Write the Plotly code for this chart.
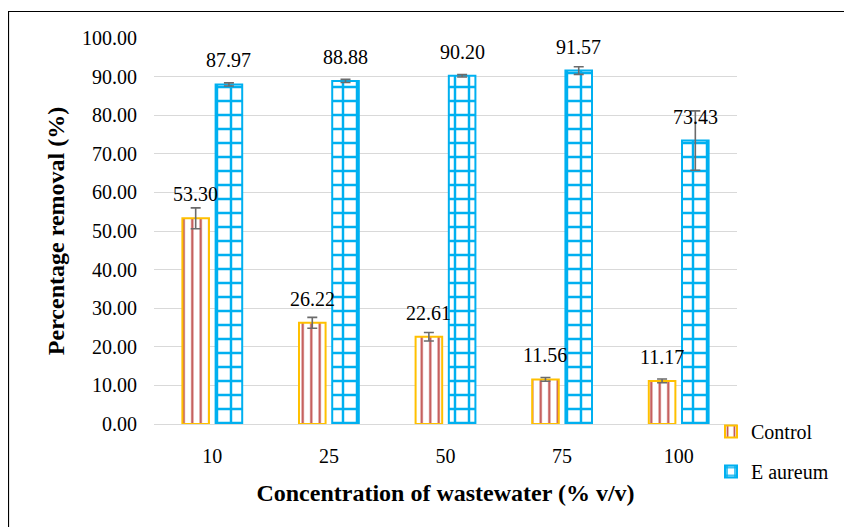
import plotly.graph_objects as go

categories = ["10", "25", "50", "75", "100"]
control = [53.30, 26.22, 22.61, 11.56, 11.17]
control_err = [2.7, 1.4, 1.1, 0.5, 0.5]
eaureum = [87.97, 88.88, 90.20, 91.57, 73.43]
eaureum_err = [0.4, 0.4, 0.3, 1.0, 7.7]

FONT = "Liberation Serif"
OFF = 8  # page body margin
W, H = 852 - OFF, 527 - OFF
ML, MT = 154 - OFF, 38 - OFF
MR = W - (737 - OFF)
MB = H - (424 - OFF)
BARGAP = 0.43
plot_w = W - ML - MR
plot_h = H - MT - MB
slot_px = plot_w / len(categories) * (1 - BARGAP) / 2


def px_x(p):
    return (p - OFF - ML) / plot_w


def px_y(p):
    return (H - MB - (p - OFF)) / plot_h


fig = go.Figure()
fig.add_trace(go.Bar(
    name="Control", x=categories, y=control,
    marker=dict(color="white", line=dict(color="#FFC000", width=2),
                pattern=dict(shape="|", fgcolor="#C0504D", fgopacity=1, size=8.5, solidity=0.25,
                             fillmode="overlay")),
    error_y=dict(type="data", array=control_err, color="#6b6b6b", thickness=1.6, width=5),
    legendgroup="a",
))
fig.add_trace(go.Bar(
    name="E aureum", x=categories, y=eaureum,
    marker=dict(color="white", line=dict(color="#00B0F0", width=2),
                pattern=dict(shape="+", fgcolor="#00B0F0", fgopacity=1, size=14, solidity=0.32,
                             fillmode="overlay")),
    error_y=dict(type="data", array=eaureum_err, color="#6b6b6b", thickness=1.6, width=5),
    legendgroup="b",
))

annotations = []
for vals, sign in ((control, -1), (eaureum, 1)):
    for i, v in enumerate(vals):
        annotations.append(dict(x=i, y=v, xref="x", yref="y", text=f"{v:.2f}",
                                showarrow=False, yanchor="middle", xanchor="center",
                                xshift=sign * slot_px / 2, yshift=24,
                                font=dict(family=FONT, size=20, color="#000")))

fig.update_layout(
    width=W, height=H,
    margin=dict(l=ML, r=MR, t=MT, b=MB, autoexpand=False),
    paper_bgcolor="white", plot_bgcolor="white",
    barmode="group", bargap=BARGAP, bargroupgap=0.2,
    font=dict(family=FONT, size=20, color="#000"),
    annotations=annotations,
    legend=dict(x=px_x(711), y=px_y(412), xanchor="left", yanchor="top",
                font=dict(family=FONT, size=20), tracegroupgap=11, bgcolor="rgba(0,0,0,0)"),
    shapes=[dict(type="rect", xref="paper", yref="paper",
                 x0=px_x(8.5), x1=px_x(870),
                 y0=px_y(560), y1=px_y(11.5),
                 line=dict(color="black", width=1.2), fillcolor="rgba(0,0,0,0)", layer="below")],
    xaxis=dict(type="category", categoryorder="array", categoryarray=categories,
               range=[-0.5, len(categories) - 0.5],
               showline=True, linecolor="#D9D9D9", linewidth=1.3, ticks="",
               ticklabelstandoff=14, tickfont=dict(family=FONT, size=20),
               title=dict(text="<b>Concentration of wastewater (% v/v)</b>", standoff=18,
                          font=dict(family=FONT, size=24))),
    yaxis=dict(range=[0, 100], dtick=10, tickformat=".2f", showgrid=True, gridcolor="#D9D9D9",
               gridwidth=1.3, zeroline=False, showline=False, ticks="", ticklabelstandoff=16,
               tickfont=dict(family=FONT, size=20),
               title=dict(text="<b>Percentage removal (%)</b>", standoff=10,
                          font=dict(family=FONT, size=24))),
)

fig.write_html("out.html")
